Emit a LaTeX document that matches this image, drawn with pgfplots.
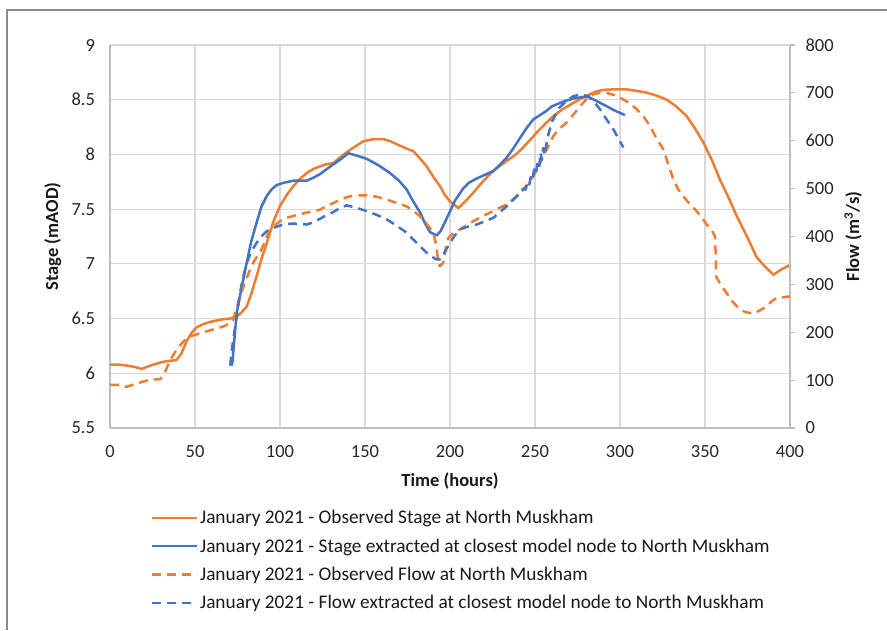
\documentclass[border=0pt]{standalone}
\usepackage{pgfplots}
\pgfplotsset{compat=1.18}
\usepackage{fontspec}
\setmainfont{Carlito}

\definecolor{obsorange}{HTML}{ED7D31}
\definecolor{modblue}{HTML}{4472C4}
\definecolor{gridgray}{HTML}{D9D9D9}
\definecolor{axgray}{HTML}{BFBFBF}

\pgfplotsset{
  base/.style={
    at={(110pt,202pt)}, anchor=south west,
    scale only axis, width=680pt, height=383pt,
    xmin=0, xmax=400,
    tick label style={font=\fontsize{18.5}{22}\selectfont, text=black!85},
    label style={font=\fontsize{18.5}{22}\selectfont\bfseries, text=black!90},
    /pgf/number format/assume math mode=true,
  },
  stage/.style={line width=2.5pt, line join=round},
  flow/.style={line width=2.5pt, dash pattern=on 9pt off 6pt, line join=round},
}

\begin{document}
\begin{tikzpicture}
\useasboundingbox (0pt,0pt) rectangle (887pt,630pt);
\draw[line width=1.2pt, color=black!45] (7pt,0pt) -- (7pt,620pt) -- (887pt,620pt);

% Stage axis (left)
\begin{axis}[base,
  ymin=5.5, ymax=9, ytick={5.5,6,6.5,7,7.5,8,8.5,9},
  xtick={0,50,100,150,200,250,300,350,400},
  axis x line*=bottom, axis y line*=left,
  axis line style={axgray, line width=1.2pt, -},
  major tick length=0pt,
  grid=major, major grid style={gridgray, line width=1.2pt},
  xlabel={Time (hours)}, ylabel={Stage (mAOD)},
  xlabel style={at={(axis description cs:0.5,-0.138)}, anchor=center},
  ylabel style={at={(axis description cs:-0.084,0.5)}, anchor=center},
  yticklabel style={xshift=-11.5pt},
  xticklabel style={yshift=-14pt},
]
% Observed stage
\addplot[stage, obsorange] coordinates {
(0,6.08)(5,6.08)(10,6.07)(14,6.06)(18.6,6.04)(22,6.06)(25.5,6.08)(30,6.10)(33,6.11)(39,6.12)
(42,6.18)(45,6.29)(48,6.37)(51,6.42)(55,6.45)(59,6.47)(65,6.49)(70.6,6.50)(74.5,6.52)(77,6.55)
(80.4,6.61)(83,6.72)(86.3,6.89)(89,7.04)(92.2,7.19)(96,7.38)(100,7.53)(104,7.63)(107.8,7.71)
(112,7.78)(115.7,7.83)(120,7.87)(123.5,7.89)(127,7.91)(131.4,7.92)(135,7.97)(139.2,8.02)
(144,8.07)(149,8.12)(155,8.14)(160.8,8.14)(165,8.12)(170.6,8.08)(175,8.05)(178.4,8.03)
(182,7.97)(186.3,7.89)(190,7.80)(194.1,7.71)(197,7.63)(200,7.57)(204.9,7.51)(209,7.57)
(213.7,7.65)(218,7.73)(223.5,7.82)(228,7.88)(233.3,7.94)(238,7.99)(242.2,8.05)(247,8.13)
(251,8.20)(256,8.28)(260.8,8.35)(266,8.41)(272.5,8.47)(277,8.51)(282.4,8.55)(286,8.575)
(290.2,8.59)(297,8.595)(303.9,8.595)(310,8.58)(315.7,8.565)(322,8.535)(327.5,8.50)(333,8.44)
(339.2,8.35)(344,8.24)(349,8.11)(354,7.95)(358.8,7.77)(364,7.60)(368.6,7.44)(375,7.24)
(380.4,7.06)(385,6.98)(390.2,6.90)(395,6.95)(400,6.99)
};
% Modelled stage
\addplot[stage, modblue] coordinates {
(71.6,6.07)(72,6.10)(74.5,6.55)(77,6.75)(80.4,7.01)(83,7.20)(86.3,7.38)(89,7.52)(92.2,7.62)
(95,7.68)(98,7.72)(102,7.74)(107.8,7.76)(112,7.76)(115.7,7.76)(120,7.79)(123.5,7.82)(127,7.86)
(131.4,7.91)(136,7.96)(140.2,8.01)(145,7.99)(151,7.96)(158,7.90)(164.7,7.83)(170,7.76)
(174.5,7.68)(178,7.58)(182.4,7.47)(185,7.38)(188.2,7.29)(192.2,7.26)(194.5,7.30)(197,7.38)
(200,7.48)(203,7.58)(207.8,7.69)(211,7.74)(215.7,7.78)(220,7.81)(225.5,7.85)(229,7.90)
(233.3,7.97)(237,8.05)(241.2,8.15)(245,8.24)(249,8.32)(252,8.35)(256.9,8.40)(260,8.44)
(264.7,8.47)(268,8.49)(272.5,8.51)(276,8.52)(280.4,8.53)(282,8.52)(286,8.49)(292.2,8.44)
(297,8.40)(302.9,8.36)
};
\end{axis}

% Flow axis (right)
\begin{axis}[base,
  ymin=0, ymax=800, ytick={0,100,200,300,400,500,600,700,800},
  axis y line*=right, axis x line=none,
  axis line style={axgray, line width=1.2pt, -},
  tick style={axgray, line width=1.2pt}, major tick length=5pt, tick align=outside,
  ylabel={Flow (m\textsuperscript{3}/s)},
  ylabel style={at={(axis description cs:1.093,0.5)}, anchor=center, rotate=0},
  yticklabel style={xshift=7pt},
  legend style={at={(axis description cs:0.055,-0.204)}, anchor=north west,
    draw=none, fill=none, font=\fontsize{19.3}{23}\selectfont, text=black!90,
    row sep=9.5pt, cells={anchor=west}},
  legend image code/.code={\draw[#1] (0pt,0pt) -- (45pt,0pt);},
]
\addlegendimage{stage, obsorange}
\addlegendentry{January 2021 - Observed Stage at North Muskham}
\addlegendimage{stage, modblue}
\addlegendentry{January 2021 - Stage extracted at closest model node to North Muskham}
% Observed flow
\addplot[flow, obsorange] coordinates {
(0,90)(5,90)(9.8,86)(15.7,93)(21.6,99)(25,101)(29.4,102)(31.5,110)(33.3,125)(36,145)(39.2,164)
(43,180)(47.1,191)(52,197)(56.9,202)(62,207)(66.7,212)(70,218)(72.5,226)(74.5,250)(76.5,275)
(79,300)(82.4,331)(85,350)(88.2,366)(90,380)(92.2,400)(94,413)(96,421)(100,432)(103.9,439)
(110,445)(115.7,450)(120,453)(123.5,456)(127,463)(131.4,470)(136,478)(141.2,484)(146,486)
(151,486)(157,483)(162.7,477)(168,471)(174.5,463)(178,455)(182.4,442)(186,428)(190.2,408)
(192,380)(193.1,345)(194,338)(196,345)(197.8,380)(199,397)(202,407)(205.9,415)(210,424)
(213.7,432)(218,440)(223.5,450)(228,458)(233.3,467)(238,480)(243.1,498)(246,512)(249,526)
(252,546)(254.9,568)(258,590)(260.8,610)(264,624)(268.6,638)(272,652)(276.5,672)(280,686)
(284.3,697)(288,700)(292.2,700)(296,696)(300,690)(305,680)(309.8,666)(314,650)(317.6,631)
(321,608)(325.5,582)(328,555)(331.4,519)(334,500)(337.2,484)(341,468)(345.1,453)(348,440)
(351,425)(354,413)(355.9,400)(356.3,360)(356.5,317)(359,300)(362.7,282)(366,265)(370.6,247)
(374,242)(378.4,239)(382,245)(386.3,254)(389,264)(392.2,272)(396,273)(400,275)
};
\addlegendentry{January 2021 - Observed Flow at North Muskham}
% Modelled flow
\addplot[flow, modblue] coordinates {
(70.8,130)(71.2,150)(72.5,185)(74.5,233)(76.5,282)(78,310)(80.4,345)(83,368)(86.3,387)(89,400)
(92.2,411)(96,418)(100,423)(104,426)(107.8,427)(112,426)(115.7,425)(120,430)(123.5,437)
(127,444)(131.4,451)(135,459)(139.2,465)(145,460)(151,453)(157,445)(162.7,436)(168,424)
(174.5,408)(178,395)(182.4,380)(186,367)(190.2,356)(192,352)(194.1,352)(197,368)(200,387)
(203,403)(205.9,415)(210,420)(215.7,425)(220,431)(225.5,439)(229,450)(233.3,463)(237,476)
(241.2,491)(243,500)(244.5,498)(245.5,512)(246.5,506)(247.5,524)(248.5,518)(249.5,540)
(250.5,530)(251.5,555)(252.5,545)(253.2,575)(254,560)(254.8,585)(255.5,570)(256.9,596)
(258,615)(260,640)(261.8,652)(264,668)(268.6,683)(272,692)(276.5,697)(281.4,693)(285,680)
(288.2,666)(292,645)(296.1,624)(299,605)(302,586)
};
\addlegendentry{January 2021 - Flow extracted at closest model node to North Muskham}
\end{axis}
\end{tikzpicture}
\end{document}
